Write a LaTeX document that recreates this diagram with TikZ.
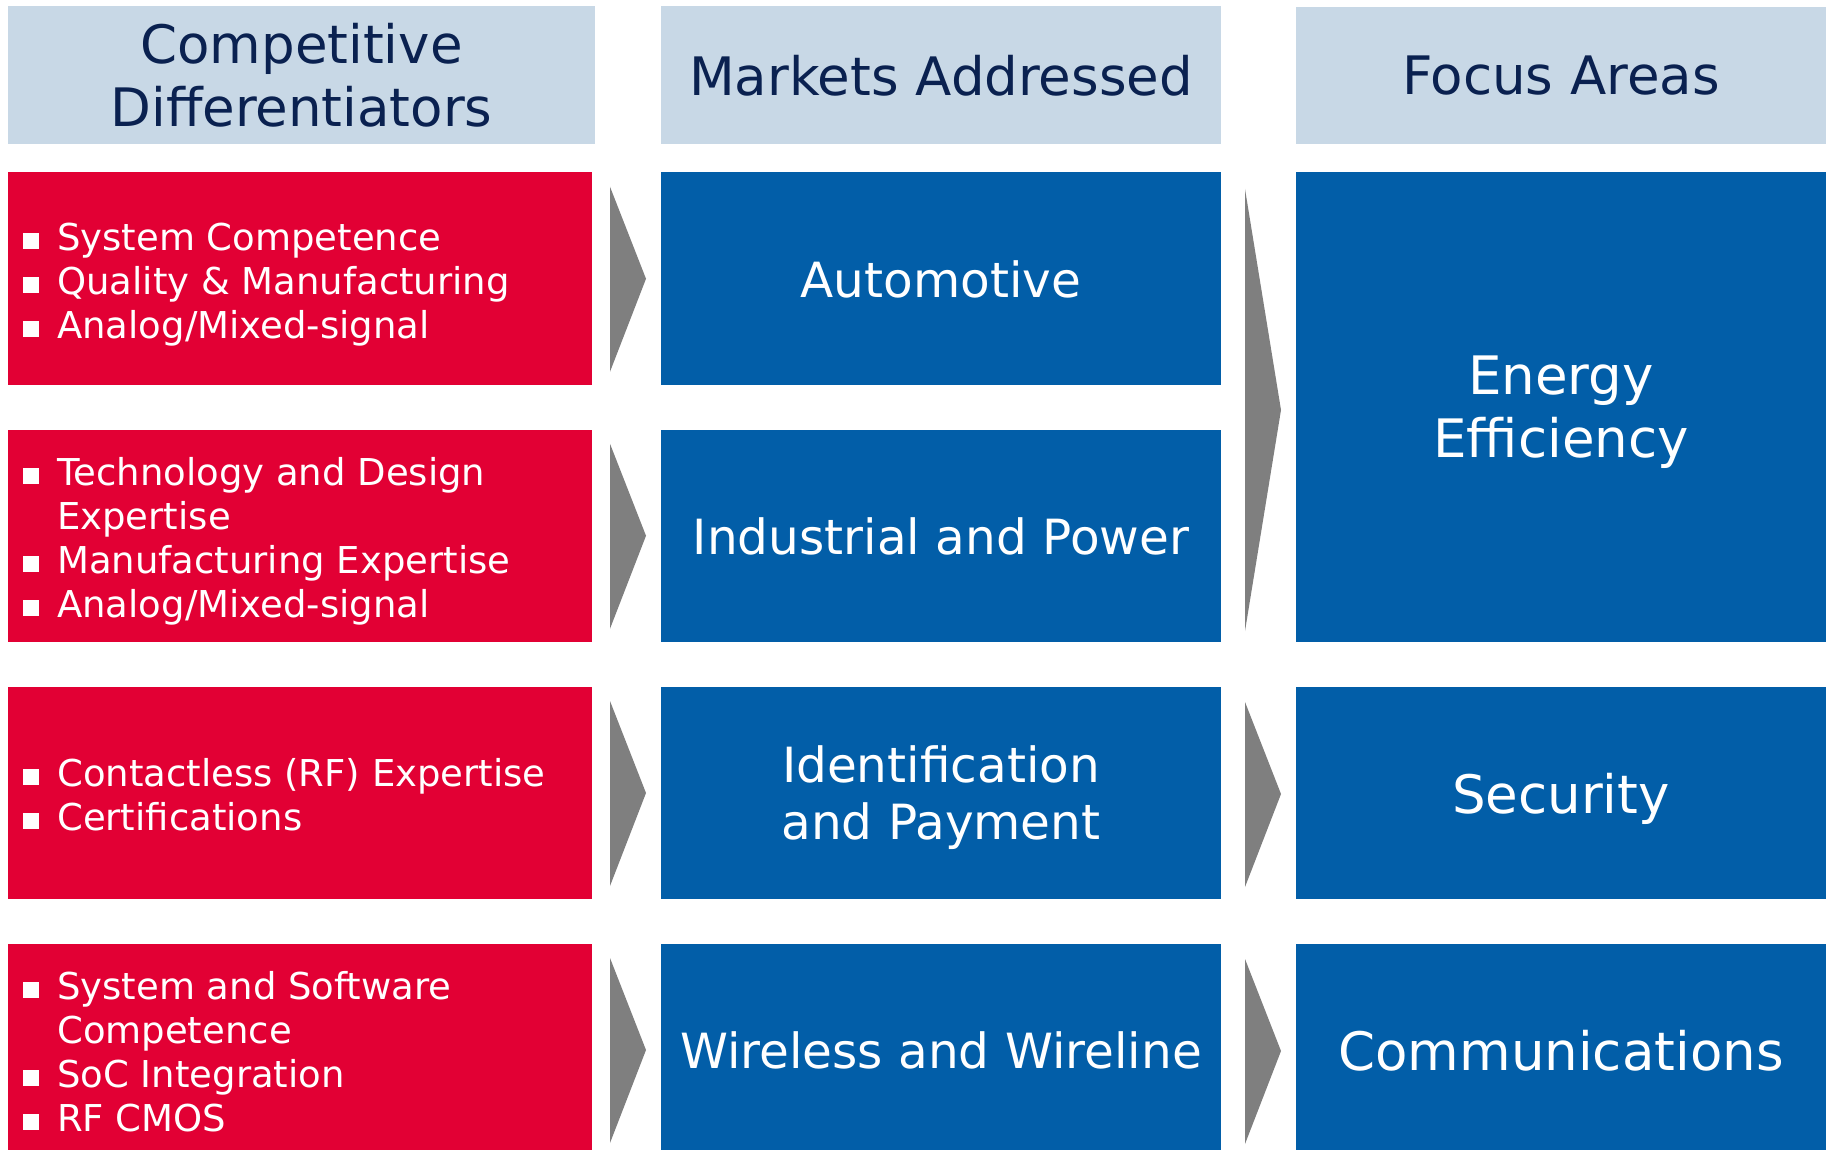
\documentclass[tikz,border=0pt]{standalone}
\usepackage{fontspec}
\setmainfont{DejaVu Sans}
\usetikzlibrary{calc}

\definecolor{hdrfill}{RGB}{200,216,230}
\definecolor{hdrtext}{RGB}{10,33,80}
\definecolor{diffred}{RGB}{226,0,52}
\definecolor{mktblue}{RGB}{2,94,168}
\definecolor{chevgray}{RGB}{127,127,127}

% white square bullet
\newcommand\sqb{\raisebox{2pt}{\rule{16pt}{16pt}}}

\tikzset{
  box/.style={anchor=north west, inner sep=0pt, outer sep=0pt},
  hdr/.style={box, fill=hdrfill, text=hdrtext, align=center, text depth=-2pt,
              font=\fontsize{53}{63}\selectfont, minimum height=138pt},
  diff/.style={box, fill=diffred, minimum width=584pt},
  difftext/.style={anchor=west, inner sep=0pt, text=white,
              font=\fontsize{37}{44}\selectfont},
  mkt/.style={box, fill=mktblue, text=white, align=center, text depth=0pt,
              font=\fontsize{48.5}{57}\selectfont, minimum width=560pt},
  focus/.style={box, fill=mktblue, text=white, align=center, text depth=0pt,
              font=\fontsize{53}{63}\selectfont, minimum width=530pt},
  chev/.style={fill=chevgray}
}

\begin{document}
\begin{tikzpicture}[x=1pt,y=-1pt]
\useasboundingbox (0,0) rectangle (1828,1150);

% column headers
\node[hdr, minimum width=587pt] (h1) at (8,6) {Competitive\\Differentiators};
\node[hdr, minimum width=560pt] (h2) at (661,6) {Markets Addressed};
\node[hdr, minimum width=530pt, minimum height=137pt] (h3) at (1296,7) {Focus Areas};

% competitive differentiators
\node[diff, minimum height=212.5pt] (d1) at (8,172.5) {};
\node[diff, minimum height=211.5pt] (d2) at (8,430) {};
\node[diff, minimum height=212pt]   (d3) at (8,687) {};
\node[diff, minimum height=212pt]   (d4) at (8,944) {};

\node[difftext] (d1t) at ($(d1.west)+(15,7)$) {%
  \begin{tabular}{@{}l@{\hspace{18pt}}l@{}}
  \sqb & System Competence\\
  \sqb & Quality \& Manufacturing\\
  \sqb & Analog/Mixed-signal
  \end{tabular}};
\node[difftext] (d2t) at ($(d2.west)+(15,7)$) {%
  \begin{tabular}{@{}l@{\hspace{18pt}}l@{}}
  \sqb & Technology and Design\\
       & Expertise\\
  \sqb & Manufacturing Expertise\\
  \sqb & Analog/Mixed-signal
  \end{tabular}};
\node[difftext] (d3t) at ($(d3.west)+(15,7)$) {%
  \begin{tabular}{@{}l@{\hspace{18pt}}l@{}}
  \sqb & Contactless (RF) Expertise\\
  \sqb & Certifications
  \end{tabular}};
\node[difftext] (d4t) at ($(d4.west)+(15,7)$) {%
  \begin{tabular}{@{}l@{\hspace{18pt}}l@{}}
  \sqb & System and Software\\
       & Competence\\
  \sqb & SoC Integration\\
  \sqb & RF CMOS
  \end{tabular}};

% markets addressed
\node[mkt, minimum height=212.5pt] (m1) at (661,172.5) {Automotive};
\node[mkt, minimum height=211.5pt] (m2) at (661,430) {Industrial and Power};
\node[mkt, minimum height=212pt]   (m3) at (661,687) {Identification\\and Payment};
\node[mkt, minimum height=212pt]   (m4) at (661,944) {Wireless and Wireline};

% focus areas
\node[focus, minimum height=469pt] (fe) at (1296,172.5) {Energy\\Efficiency};
\node[focus, minimum height=212pt] (fs) at (1296,687) {Security};
\node[focus, minimum height=212pt] (fc) at (1296,944) {Communications};

% chevrons: differentiators to markets
\foreach \d/\m in {d1/m1, d2/m2, d3/m3, d4/m4}
  \fill[chev] ($(\d.east)+(18,-92)$) -- ($(\m.west)+(-15,0)$)
              -- ($(\d.east)+(18,93)$) -- cycle;

% chevrons: markets to focus areas
\fill[chev] ($(fe.west)+(-51,-218)$) -- ($(fe.west)+(-15,3)$)
            -- ($(fe.west)+(-51,224)$) -- cycle;
\foreach \m/\f in {m3/fs, m4/fc}
  \fill[chev] ($(\m.east)+(24,-91)$) -- ($(\f.west)+(-15,1)$)
              -- ($(\m.east)+(24,94)$) -- cycle;
\end{tikzpicture}
\end{document}
